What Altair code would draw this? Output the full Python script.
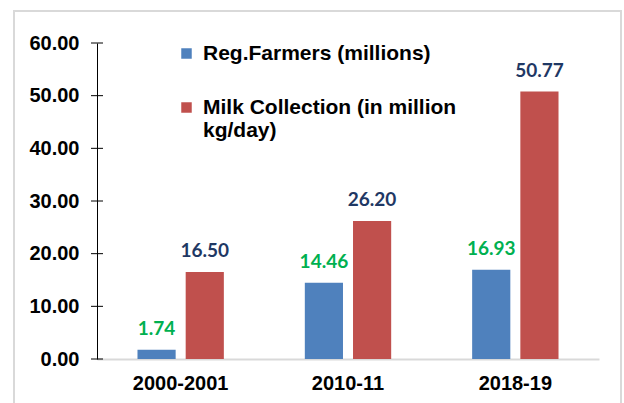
import altair as alt
import pandas as pd

years = ["2000-2001", "2010-11", "2018-19"]
series = ["Reg.Farmers (millions)", "Milk Collection (in million|kg/day)"]
farmers = [1.74, 14.46, 16.93]
milk = [16.50, 26.20, 50.77]
y_ticks = [0, 10, 20, 30, 40, 50, 60]

rows = []
for i, yr in enumerate(years):
    rows.append({"year": yr, "series": series[0], "value": farmers[i]})
    rows.append({"year": yr, "series": series[1], "value": milk[i]})
df = pd.DataFrame(rows)

x_enc = alt.X("year:N", sort=years, title=None,
              scale=alt.Scale(paddingInner=0, paddingOuter=0),
              axis=alt.Axis(labelAngle=0, labelFont="Liberation Sans", labelFontSize=20,
                            labelFontWeight="bold", labelColor="black", ticks=False,
                            labelPadding=14, domainColor="#d9d9d9", domainWidth=2))
xo_enc = alt.XOffset("series:N", sort=series,
                     scale=alt.Scale(paddingInner=0.208, paddingOuter=0.84))
y_scale = alt.Scale(domain=[0, 60], nice=False)

bars = alt.Chart(df).mark_bar().encode(
    x=x_enc,
    xOffset=xo_enc,
    y=alt.Y("value:Q", scale=y_scale, title=None,
            axis=alt.Axis(values=y_ticks, format=".2f", ticks=False, grid=False,
                          labelFont="Liberation Sans", labelFontSize=20, labelFontWeight="bold",
                          labelColor="black", labelPadding=18, domainColor="black", domainWidth=1)),
    color=alt.Color("series:N", sort=series,
                    scale=alt.Scale(domain=series, range=["#4F81BD", "#C0504D"]),
                    legend=alt.Legend(orient="none", legendX=79, legendY=0, title=None,
                                      symbolType="square", symbolSize=110, symbolStrokeWidth=0,
                                      labelFont="Liberation Sans", labelFontSize=21,
                                      labelFontWeight="bold", labelColor="black",
                                      labelLimit=500, labelOffset=6, padding=0, rowPadding=32,
                                      labelExpr="split(datum.label, '|')")),
)

labels = alt.Chart(df).mark_text(baseline="alphabetic", dy=-15, font="Lato",
                                 fontSize=19, fontWeight="bold").encode(
    x=alt.X("year:N", sort=years),
    xOffset=alt.XOffset("series:N", sort=series),
    y=alt.Y("value:Q", scale=y_scale),
    text=alt.Text("value:Q", format=".2f"),
    color=alt.condition(alt.datum.series == series[0], alt.value("#00B050"), alt.value("#1F3864")),
)

ticks = alt.Chart(pd.DataFrame({"v": y_ticks})).mark_rule(color="black", strokeWidth=1).encode(
    y=alt.Y("v:Q", scale=y_scale),
    x=alt.value(-6),
    x2=alt.value(6),
)

frame = alt.Chart(pd.DataFrame({"a": [0]})).mark_rect(
    fill=None, stroke="#d9d9d9", strokeWidth=2
).encode(
    x=alt.value(-83), x2=alt.value(524), y=alt.value(-32), y2=alt.value(380)
)

chart = alt.layer(frame, bars, labels, ticks).properties(
    width=502, height=316,
    autosize=alt.AutoSizeParams(type="none"),
    padding={"left": 97, "top": 43, "right": 25, "bottom": 44},
    background="white",
).configure_view(stroke=None)

chart.save("out.html", embed_options={"renderer": "svg", "actions": False})
